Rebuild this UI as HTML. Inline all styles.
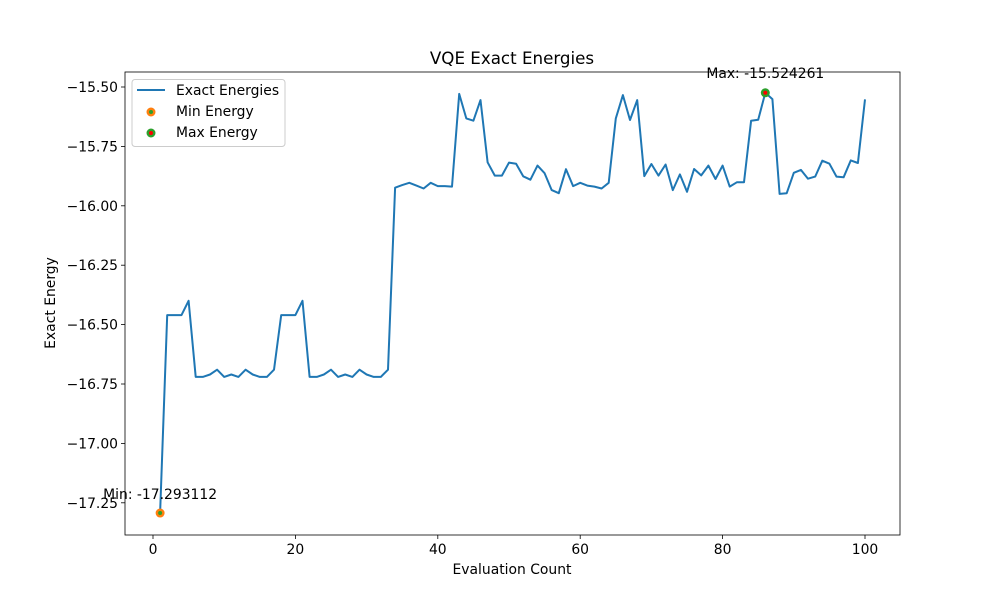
<!DOCTYPE html>
<html><head><meta charset="utf-8"><style>
body{margin:0;background:#fff}
svg{display:block;font-family:"DejaVu Sans","Liberation Sans",sans-serif}
</style></head><body>
<svg id="chart" width="1000" height="600">
<rect width="1000" height="600" fill="#fff"/>
<text x="512" y="64" font-size="16.7" text-anchor="middle">VQE Exact Energies</text>
<g id="plot"></g>
</svg>
<script>
const xs = [];
for (let i = 1; i <= 100; i++) xs.push(i);
const energies = [-17.293112,-16.46,-16.46,-16.46,-16.40,-16.72,-16.72,-16.71,-16.69,-16.72,-16.71,-16.72,-16.69,-16.71,-16.72,-16.72,-16.69,-16.46,-16.46,-16.46,-16.40,-16.72,-16.72,-16.71,-16.69,-16.72,-16.71,-16.72,-16.69,-16.71,-16.72,-16.72,-16.69,
-15.924,-15.913,-15.903,-15.915,-15.927,-15.903,-15.917,-15.917,-15.919,-15.529,-15.632,-15.642,-15.555,-15.817,-15.873,-15.873,-15.818,-15.823,-15.876,-15.890,-15.831,-15.863,-15.934,-15.947,-15.846,-15.917,-15.903,-15.915,-15.919,-15.927,-15.903,-15.632,-15.534,-15.639,-15.555,
-15.875,-15.824,-15.873,-15.826,-15.934,-15.868,-15.941,-15.845,-15.872,-15.831,-15.887,-15.831,-15.919,-15.901,-15.901,-15.642,-15.638,-15.524261,-15.551,-15.950,-15.947,-15.861,-15.849,-15.886,-15.877,-15.810,-15.823,-15.877,-15.880,-15.809,-15.820,-15.552];
const xTicks = [0,20,40,60,80,100];
const yTicks = [-17.25,-17.00,-16.75,-16.50,-16.25,-16.00,-15.75,-15.50];
const L=125,R=900,T=72,B=535;
const X = v => 153 + v*7.12;
const Y = v => 87 + (-15.5 - v)*237.6;
const NS="http://www.w3.org/2000/svg";
const g=document.getElementById('plot');
function mk(tag,attrs,parent){const e=document.createElementNS(NS,tag);for(const k in attrs)e.setAttribute(k,attrs[k]);(parent||g).appendChild(e);return e;}
xTicks.forEach(t=>{
  const l=mk('line',{x1:X(t),x2:X(t),y1:B,y2:B+4,stroke:'#000','stroke-width':0.8});
  
  
  const tx=mk('text',{x:X(t),y:B+19,'font-size':13.9,'text-anchor':'middle'});
  tx.textContent=t;
  
  
});
yTicks.forEach(t=>{
  const l=mk('line',{x1:L-4,x2:L,y1:Y(t),y2:Y(t),stroke:'#000','stroke-width':0.8});
  
  
  const tx=mk('text',{x:L-7,y:Y(t)+5,'font-size':13.9,'text-anchor':'end'});
  tx.textContent=t.toFixed(2).replace('-','\u2212');
  
  
});
const pts=xs.map((x,i)=>X(x).toFixed(1)+','+Y(energies[i]).toFixed(1)).join(' ');
const pl=mk('polyline',{points:pts,fill:'none',stroke:'#1f77b4','stroke-width':2,'stroke-linejoin':'round'});


let mi=0,ma=0;energies.forEach((v,i)=>{if(v<energies[mi])mi=i;if(v>energies[ma])ma=i;});
const mn=mk('circle',{cx:X(xs[mi]),cy:Y(energies[mi]),r:4.5,fill:'#ff7f0e'});


mk('circle',{cx:X(xs[mi]),cy:Y(energies[mi]),r:2,fill:'#2ca02c'});
const mx=mk('circle',{cx:X(xs[ma]),cy:Y(energies[ma]),r:4.5,fill:'#2ca02c'});


mk('circle',{cx:X(xs[ma]),cy:Y(energies[ma]),r:2,fill:'red'});
const ta=mk('text',{x:X(xs[mi]),y:Y(energies[mi])-14,'font-size':13.9,'text-anchor':'middle'});
ta.textContent='Min: '+energies[mi].toFixed(6);


const tb=mk('text',{x:X(xs[ma]),y:Y(energies[ma])-15,'font-size':13.9,'text-anchor':'middle'});
tb.textContent='Max: '+energies[ma].toFixed(6);


const fr=mk('rect',{x:L,y:T,width:R-L,height:B-T,fill:'none',stroke:'#000','stroke-width':0.8});


const xt=mk('text',{x:512,y:574,'font-size':13.9,'text-anchor':'middle'});
xt.textContent='Evaluation Count';


const yt=mk('text',{x:0,y:0,'font-size':13.9,'text-anchor':'middle',transform:'translate(55,303) rotate(-90)'});
yt.textContent='Exact Energy';


const lg=mk('g',{});


mk('rect',{x:132,y:79.5,width:153,height:67,rx:3,fill:'#fff',stroke:'#ccc','stroke-width':1},lg);
mk('line',{x1:137,x2:165,y1:90,y2:90,stroke:'#1f77b4','stroke-width':2},lg);
mk('circle',{cx:151,cy:112,r:4.5,fill:'#ff7f0e'},lg);
mk('circle',{cx:151,cy:112,r:2,fill:'#2ca02c'},lg);
mk('circle',{cx:151,cy:133,r:4.5,fill:'#2ca02c'},lg);
mk('circle',{cx:151,cy:133,r:2,fill:'red'},lg);
[['Exact Energies',95],['Min Energy',116],['Max Energy',137]].forEach(([s,y])=>{
  const t=mk('text',{x:176,y:y,'font-size':13.9},lg);t.textContent=s;
  
  
});
</script>
</body></html>
